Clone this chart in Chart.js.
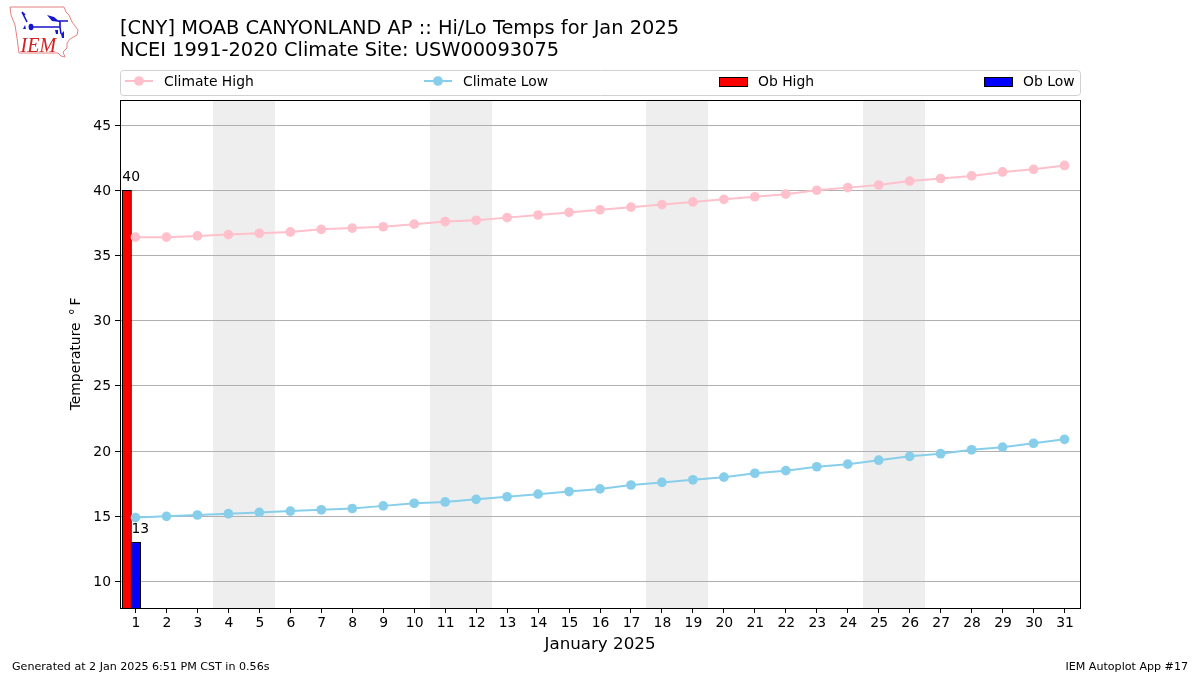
<!DOCTYPE html>
<html>
<head>
<meta charset="utf-8">
<style>
html,body{margin:0;padding:0;background:#fff;}
#wrap{position:relative;width:1200px;height:675px;overflow:hidden;}
canvas{position:absolute;left:0;top:0;}
svg{position:absolute;left:0;top:0;}
</style>
<script src="https://cdn.jsdelivr.net/npm/chart.js@4/dist/chart.umd.min.js"></script>
</head>
<body>
<div id="wrap">
<canvas id="c" width="1200" height="675"></canvas>
<svg width="90" height="65" viewBox="0 0 90 65">
  <path d="M10 7 L64 7 L66 12 L69 15 L72 22 L78 30 L77 35 L70 39 L67 43 L67 48 L63 52 L65 57 L61 56 L58 53 L19 53 L17 38 L15 25 L11 15 Z" fill="none" stroke="#e58080" stroke-width="1"/>
  <path d="M31 27 L60 27 L60 21 M58 21 L68 21 M60 27 L61 34 M22 12 L27 22 M22 12 L25 15" stroke="#1515d0" stroke-width="1.6" fill="none"/>
  <ellipse cx="31" cy="27" rx="2.4" ry="3.2" fill="#1515d0"/>
  <path d="M47 15 L54 17 L60 22 L52 21 Z M23 29 L26 29 L25 25 Z M55 30 L58 30 L58 34 L56 34 Z M61 34 L64 31 L64 38 L62 38 Z" fill="#1515d0"/>
  <text x="20.5" y="52" font-family="Liberation Serif" font-style="italic" font-size="20" fill="#d42020">IEM</text>
</svg>
</div>
<script>
const days = ["1","2","3","4","5","6","7","8","9","10","11","12","13","14","15","16","17","18","19","20","21","22","23","24","25","26","27","28","29","30","31"];
const climateHigh = [36.4,36.4,36.5,36.6,36.7,36.8,37.0,37.1,37.2,37.4,37.6,37.7,37.9,38.1,38.3,38.5,38.7,38.9,39.1,39.3,39.5,39.7,40.0,40.2,40.4,40.7,40.9,41.1,41.4,41.6,41.9];
const climateLow = [14.9,15.0,15.1,15.2,15.3,15.4,15.5,15.6,15.8,16.0,16.1,16.3,16.5,16.7,16.9,17.1,17.4,17.6,17.8,18.0,18.3,18.5,18.8,19.0,19.3,19.6,19.8,20.1,20.3,20.6,20.9];
const obDays = [1];
const obHigh = [40];
const obLow = [13];
const weekendDays = ["4","5","11","12","18","19","25","26"];
const titleLines = ["[CNY] MOAB CANYONLAND AP :: Hi/Lo Temps for Jan 2025","NCEI 1991-2020 Climate Site: USW00093075"];
const xTitle = "January 2025";
const yTitle = "Temperature \u2009°\u2009F";
const footerLeft = "Generated at 2 Jan 2025 6:51 PM CST in 0.56s";
const footerRight = "IEM Autoplot App #17";

const FONT = '"DejaVu Sans"';

const figurePlugin = {
  id: 'figure',
  beforeDraw(chart) {
    const {ctx, chartArea: a, scales: {x}} = chart;
    ctx.save();
    ctx.fillStyle = '#eeeeee';
    const step = x.getPixelForValue(1) - x.getPixelForValue(0);
    weekendDays.forEach(d => {
      const p = x.getPixelForValue(days.indexOf(d));
      const l = Math.round(p - step/2), r = Math.round(p + step/2);
      ctx.fillRect(l, a.top, r - l, a.bottom - a.top);
    });
    ctx.restore();
  },
  afterDraw(chart) {
    const {ctx, chartArea: a} = chart;
    ctx.save();
    // bar value labels
    ctx.font = '13.9px ' + FONT;
    ctx.fillStyle = '#000';
    ctx.textBaseline = 'alphabetic';
    [2,3].forEach(i => {
      const meta = chart.getDatasetMeta(i);
      meta.data.forEach((el, k) => {
        const v = chart.data.datasets[i].data[k].y;
        ctx.textAlign = 'left';
        ctx.fillText(String(v), el.x - el.width/2, el.y - 9);
      });
    });
    // axes frame
    ctx.strokeStyle = '#000';
    ctx.lineWidth = 1;
    ctx.strokeRect(Math.round(a.left)+0.5, Math.round(a.top)+0.5, Math.round(a.right-a.left)-0.0, Math.round(a.bottom-a.top));
    // legend
    ctx.strokeStyle = '#d0d0d0';
    ctx.fillStyle = '#fff';
    ctx.beginPath();
    ctx.roundRect(120.5, 70.5, 960, 25, 3);
    ctx.fill(); ctx.stroke();
    const ds = chart.data.datasets;
    const cy = 82;
    [[0,125],[1,424],[2,719],[3,984]].forEach(([i,x0]) => {
      const d = ds[i];
      if (i < 2) {
        ctx.strokeStyle = d.borderColor;
        ctx.lineWidth = 2;
        ctx.beginPath(); ctx.moveTo(x0, cy-1); ctx.lineTo(x0+28, cy-1); ctx.stroke();
        ctx.fillStyle = d.borderColor;
        ctx.beginPath(); ctx.arc(x0+14, cy-1, 4.85, 0, Math.PI*2); ctx.fill();
      } else {
        ctx.fillStyle = d.backgroundColor;
        ctx.fillRect(x0, 77, 28, 9.5);
        ctx.strokeStyle = '#000';
        ctx.lineWidth = 1;
        ctx.strokeRect(x0+0.5, 77.5, 28, 9);
      }
      ctx.fillStyle = '#000';
      ctx.textAlign = 'left';
      ctx.textBaseline = 'alphabetic';
      ctx.font = '13.9px ' + FONT;
      ctx.fillText(d.label, x0 + 39, 85.5);
    });
    // footer
    ctx.font = '11.1px ' + FONT;
    ctx.textAlign = 'left';
    ctx.fillText(footerLeft, 12, 670);
    ctx.textAlign = 'right';
    ctx.fillText(footerRight, 1188, 670);
    ctx.restore();
  }
};

new Chart(document.getElementById('c'), {
  type: 'line',
  data: {
    labels: days,
    datasets: [
      {label:'Climate High', data: climateHigh, borderColor:'pink', backgroundColor:'pink', borderWidth:2, pointRadius:4.85, pointBorderWidth:0, pointBackgroundColor:'pink', order:0, tension:0, xAxisID:'x', yAxisID:'y'},
      {label:'Climate Low', data: climateLow, borderColor:'skyblue', backgroundColor:'skyblue', borderWidth:2, pointRadius:4.85, pointBorderWidth:0, pointBackgroundColor:'skyblue', order:0, tension:0, xAxisID:'x', yAxisID:'y'},
      {type:'bar', label:'Ob High', data: obDays.map((d,i)=>({x:d,y:obHigh[i]})), backgroundColor:'#ff0000', borderColor:'#000', borderWidth:1, barThickness:9.2, order:1, xAxisID:'xb', yAxisID:'y'},
      {type:'bar', label:'Ob Low', data: obDays.map((d,i)=>({x:d,y:obLow[i]})), backgroundColor:'#0000ff', borderColor:'#000', borderWidth:1, barThickness:9.2, order:1, xAxisID:'xb', yAxisID:'y'}
    ]
  },
  options: {
    responsive: false,
    animation: false,
    layout: {padding: {left:0, right:120, top:0, bottom:0}},
    plugins: {
      legend: {display:false},
      tooltip: {enabled:false},
      title: {
        display:true, text:titleLines, align:'start', fullSize:false, color:'#000',
        font:{family:FONT, size:19.4, weight:'normal', lineHeight:1.13},
        padding:{top:18.5, bottom:37.5}
      }
    },
    scales: {
      x: {
        type:'category', offset:true,
        grid:{offset:false, color:'transparent', tickColor:'#000', tickLength:5, drawTicks:true},
        border:{display:false},
        ticks:{color:'#000', font:{family:FONT, size:13.9}, autoSkip:false, maxRotation:0, padding:2, labelOffset:0.5},
        title:{display:true, text:xTitle, color:'#000', font:{family:FONT, size:16.7}, padding:{top:0,bottom:20}},
        afterFit(s){ s.height = 67; }
      },
      xb: {type:'linear', display:false, offset:false, grid:{offset:false}, min:0.629, max:31.629},
      y: {
        type:'linear', min:7.97, max:46.93,
        grid:{color:'#b0b0b0', lineWidth:1, tickColor:'#000', tickLength:5},
        border:{display:false},
        ticks:{stepSize:5, includeBounds:false, color:'#000', font:{family:FONT, size:13.9}, padding:4, labelOffset:1},
        title:{display:true, text:yTitle, color:'#000', font:{family:FONT, size:13.9}, padding:{top:67.7,bottom:0}},
        afterFit(s){ s.width = 120; }
      }
    }
  },
  plugins: [figurePlugin]
});
</script>
</body>
</html>
